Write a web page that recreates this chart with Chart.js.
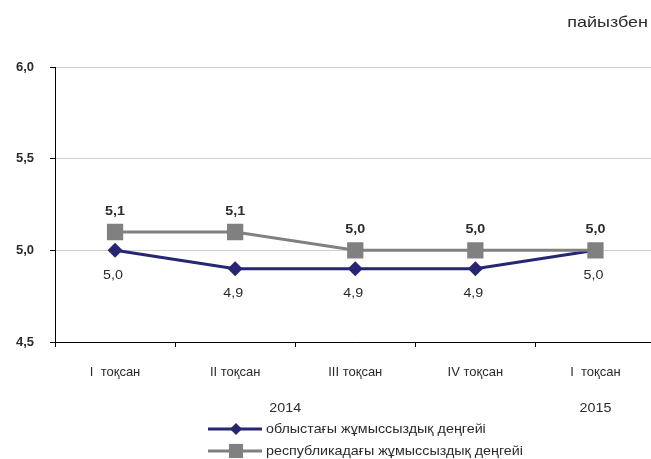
<!DOCTYPE html>
<html>
<head>
<meta charset="utf-8">
<script src="https://cdn.jsdelivr.net/npm/chart.js@4/dist/chart.umd.min.js"></script>
<style>
  html, body { margin: 0; padding: 0; background: #fff; overflow: hidden; }
  canvas { display: block; }
</style>
</head>
<body>
<canvas id="chart" width="667" height="459"></canvas>
<script>
// Данные графика
const categories = ['I  тоқсан', 'II тоқсан', 'III тоқсан', 'IV тоқсан', 'I  тоқсан'];
const years = ['2014', '2015'];
const oblastValues = [5.0, 4.9, 4.9, 4.9, 5.0];
const republicValues = [5.1, 5.1, 5.0, 5.0, 5.0];
const seriesNames = ['облыстағы жұмыссыздық деңгейі', 'республикадағы жұмыссыздық деңгейі'];
const unitLabel = 'пайызбен';

const navy = '#262673';
const gray = '#808080';
const textColor = '#2b2b2b';
const family = '"Liberation Sans", Arial, sans-serif';
const fmt = v => v.toFixed(1).replace('.', ',');

// Текст с небольшим растяжением по горизонтали, как в оригинале
function stretchedText(ctx, text, x, y, sx) {
  ctx.save();
  ctx.translate(x, y);
  ctx.scale(sx, 1);
  ctx.fillText(text, 0, 0);
  ctx.restore();
}

// Подписи значений, годы, легенда и единица измерения
const extras = {
  id: 'extras',
  afterDatasetsDraw(chart) {
    const ctx = chart.ctx;
    const x = chart.scales.x;
    ctx.save();
    ctx.fillStyle = textColor;
    ctx.textAlign = 'center';
    ctx.textBaseline = 'middle';

    // значения
    ctx.font = 'bold 13px ' + family;
    chart.getDatasetMeta(1).data.forEach((pt, i) => {
      stretchedText(ctx, fmt(republicValues[i]), pt.x, pt.y - 21, 1.1);
    });
    ctx.font = '13px ' + family;
    chart.getDatasetMeta(0).data.forEach((pt, i) => {
      stretchedText(ctx, fmt(oblastValues[i]), pt.x - 2, pt.y + 25, 1.1);
    });

    // годы
    const mid2014 = (x.getPixelForValue(0) + x.getPixelForValue(3)) / 2 - 10;
    stretchedText(ctx, years[0], mid2014, 408, 1.1);
    stretchedText(ctx, years[1], x.getPixelForValue(4), 408, 1.1);

    // единица
    ctx.font = '15px ' + family;
    ctx.textAlign = 'right';
    stretchedText(ctx, unitLabel, 648, 23, 1.2);

    // легенда
    const items = [
      { color: navy, style: 'rectRot', r: 6, y: 429, name: seriesNames[0] },
      { color: gray, style: 'rect', r: 10, y: 451, name: seriesNames[1] }
    ];
    items.forEach(it => {
      ctx.strokeStyle = it.color;
      ctx.lineWidth = 3;
      ctx.beginPath();
      ctx.moveTo(208, it.y);
      ctx.lineTo(262, it.y);
      ctx.stroke();
      ctx.fillStyle = it.color;
      Chart.helpers.drawPoint(ctx, { pointStyle: it.style, radius: it.r, borderWidth: 0 }, 236, it.y);
      ctx.fillStyle = textColor;
      ctx.textAlign = 'left';
      ctx.font = '13px ' + family;
      stretchedText(ctx, it.name, 266, it.y, 1.1);
    });
    ctx.restore();
  }
};

new Chart(document.getElementById('chart').getContext('2d'), {
  type: 'line',
  data: {
    labels: categories,
    datasets: [{
      label: seriesNames[0],
      data: oblastValues,
      borderColor: navy,
      backgroundColor: navy,
      borderWidth: 3,
      pointStyle: 'rectRot',
      pointRadius: 7.5,
      pointBorderWidth: 0,
      order: 1
    }, {
      label: seriesNames[1],
      data: republicValues,
      borderColor: gray,
      backgroundColor: gray,
      borderWidth: 3,
      pointStyle: 'rect',
      pointRadius: 11.5,
      pointBorderWidth: 0,
      order: 0
    }]
  },
  options: {
    responsive: false,
    animation: false,
    layout: { padding: { top: 67, left: 0, right: 0, bottom: 0 } },
    plugins: {
      legend: { display: false },
      tooltip: { enabled: false }
    },
    scales: {
      x: {
        offset: true,
        afterFit: s => { s.height = 117; },
        grid: {
          offset: true,
          drawOnChartArea: false,
          drawTicks: true,
          tickLength: 5,
          color: '#000'
        },
        border: { color: '#000', width: 1 },
        ticks: {
          padding: 18,
          color: textColor,
          font: { size: 13, family: family }
        }
      },
      y: {
        min: 4.5,
        max: 6.0,
        afterFit: s => { s.width = 55; },
        grid: {
          color: '#d0d0d0',
          lineWidth: 1,
          tickColor: '#000',
          tickLength: 5
        },
        border: { color: '#000', width: 1 },
        ticks: {
          stepSize: 0.5,
          padding: 16,
          color: textColor,
          font: { size: 13, weight: 'bold', family: family },
          callback: v => fmt(v)
        }
      }
    }
  },
  plugins: [extras]
});
</script>
</body>
</html>
